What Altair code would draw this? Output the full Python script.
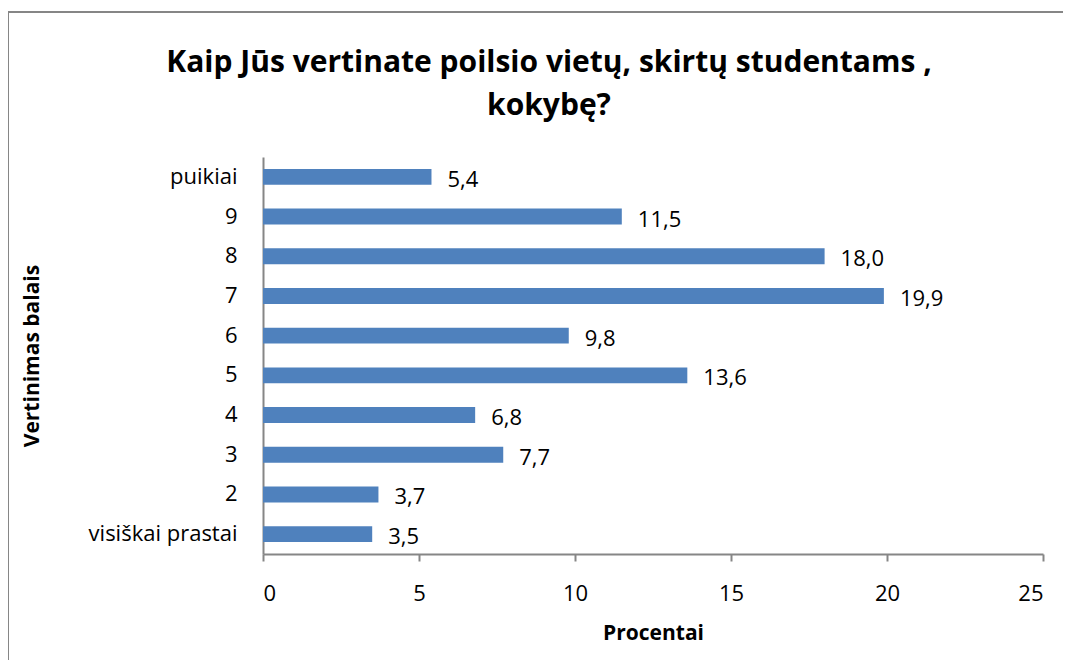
import altair as alt
import pandas as pd

categories = ["puikiai", "9", "8", "7", "6", "5", "4", "3", "2", "visiškai prastai"]
values = [5.4, 11.5, 18.0, 19.9, 9.8, 13.6, 6.8, 7.7, 3.7, 3.5]
x_ticks = [0, 5, 10, 15, 20, 25]

df = pd.DataFrame({"cat": categories, "v": values})
one = pd.DataFrame({"k": [0]})

FONT = "Open Sans"
GRAY = "#868686"
FS = 22

y_enc = alt.Y("cat:N", sort=categories,
              scale=alt.Scale(paddingInner=0.6, paddingOuter=0.3),
              axis=alt.Axis(title="Vertinimas balais", titleFontSize=21, titleFontWeight="bold",
                            titlePadding=46, labelFontSize=FS, labelPadding=26, ticks=False,
                            domainColor=GRAY, domainWidth=2, labelColor="black",
                            titleColor="black", labelFont=FONT, titleFont=FONT))
x_enc = alt.X("v:Q", scale=alt.Scale(domain=[0, 25], nice=False),
              axis=alt.Axis(values=x_ticks, title="Procentai", titleFontSize=21,
                            titleFontWeight="bold", titlePadding=18, labelFontSize=FS,
                            labelPadding=22, tickSize=7, tickColor=GRAY, tickWidth=2,
                            domainColor=GRAY, domainWidth=2, grid=False, labelColor="black",
                            titleColor="black", labelFont=FONT, titleFont=FONT))

bars = alt.Chart(df).mark_bar(color="#4F81BD").encode(x=x_enc, y=y_enc)

labels = alt.Chart(df).transform_calculate(
    lab="replace(format(datum.v, '.1f'), '.', ',')"
).mark_text(align="left", baseline="middle", dx=16, dy=3, fontSize=FS, font=FONT,
            color="black").encode(x="v:Q", y=alt.Y("cat:N", sort=categories), text="lab:N")

top_edge = alt.Chart(one).mark_rule(color=GRAY, strokeWidth=2).encode(
    x=alt.value(-255), x2=alt.value(800), y=alt.value(-145)
)
left_edge = alt.Chart(one).mark_rule(color=GRAY, strokeWidth=2).encode(
    x=alt.value(-255), y=alt.value(-145), y2=alt.value(503)
)

chart = alt.layer(top_edge, left_edge, bars, labels).properties(
    width=780, height=397,
    autosize=alt.AutoSizeParams(type="none"),
    padding={"left": 255, "top": 149, "right": 20, "bottom": 106},
    title=alt.Title(["Kaip Jūs vertinate poilsio vietų, skirtų studentams ,", "kokybę?"],
                    fontSize=30, font=FONT, fontWeight="bold", color="black",
                    anchor="middle", frame="group", dx=-104, offset=0, dy=110, lineHeight=43),
).configure_view(stroke=None)

chart.save("out.html", embed_options={"renderer": "svg", "actions": False})
